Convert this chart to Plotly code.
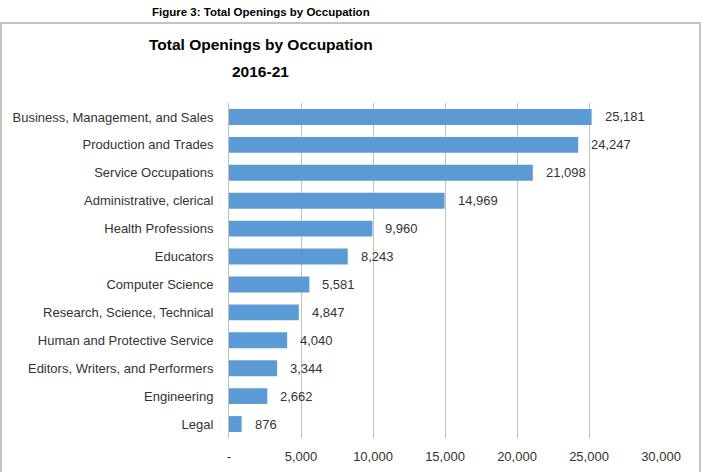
import plotly.graph_objects as go

categories = [
    "Business, Management, and Sales",
    "Production and Trades",
    "Service Occupations",
    "Administrative, clerical",
    "Health Professions",
    "Educators",
    "Computer Science",
    "Research, Science, Technical",
    "Human and Protective Service",
    "Editors, Writers, and Performers",
    "Engineering",
    "Legal",
]
values = [25181, 24247, 21098, 14969, 9960, 8243, 5581, 4847, 4040, 3344, 2662, 876]
tick_vals = [0, 5000, 10000, 15000, 20000, 25000, 30000]
tick_text = ["-", "5,000", "10,000", "15,000", "20,000", "25,000", "30,000"]

cats_rev = categories[::-1]
vals_rev = values[::-1]

fig = go.Figure(go.Bar(
    y=cats_rev, x=vals_rev, orientation="h",
    marker=dict(color="#5B9BD5", line=dict(width=0)),
    hoverinfo="skip",
))

annotations = []
for c, v in zip(cats_rev, vals_rev):
    annotations.append(dict(
        x=v, y=c, xref="x", yref="y", text=f"{v:,}", showarrow=False,
        xanchor="left", xshift=11, font=dict(family="Liberation Sans", size=13, color="#333333"),
    ))

annotations += [
    dict(text="<b>Figure 3: Total Openings by Occupation</b>", xref="paper", yref="paper",
         x=0.074, y=1.2716, showarrow=False, xanchor="center", yanchor="middle",
         font=dict(family="Liberation Sans", size=11.5, color="#000000")),
    dict(text="<b>Total Openings by Occupation</b>", xref="paper", yref="paper",
         x=0.074, y=1.1761, showarrow=False, xanchor="center", yanchor="middle",
         font=dict(family="Liberation Sans", size=15.5, color="#000000")),
    dict(text="<b>2016-21</b>", xref="paper", yref="paper",
         x=0.074, y=1.0926, showarrow=False, xanchor="center", yanchor="middle",
         font=dict(family="Liberation Sans", size=15.5, color="#000000")),
]

fig.update_layout(
    width=702, height=472,
    margin=dict(l=229, r=41, t=103, b=34, autoexpand=False),
    paper_bgcolor="white", plot_bgcolor="white",
    showlegend=False,
    bargap=0.43,
    annotations=annotations,
    shapes=[dict(type="rect", xref="paper", yref="paper",
                 x0=-0.5278, x1=1.0903, y0=-0.2, y1=1.2388,
                 line=dict(color="#B0B0B0", width=1.5), layer="below")],
    xaxis=dict(range=[0, 30000], tickvals=tick_vals, ticktext=tick_text,
               showgrid=True, gridcolor="#BFBFBF", gridwidth=1,
               zeroline=False, showline=False, automargin=False,
               ticks="outside", ticklen=6, tickcolor="rgba(0,0,0,0)",
               tickfont=dict(family="Liberation Sans", size=13, color="#333333"),
               fixedrange=True),
    yaxis=dict(showgrid=False, zeroline=False, showline=True, linecolor="#BFBFBF", linewidth=1,
               automargin=False,
               ticks="outside", ticklen=12, tickcolor="rgba(0,0,0,0)",
               tickfont=dict(family="Liberation Sans", size=13, color="#333333"),
               fixedrange=True),
)

fig.write_html("out.html")
